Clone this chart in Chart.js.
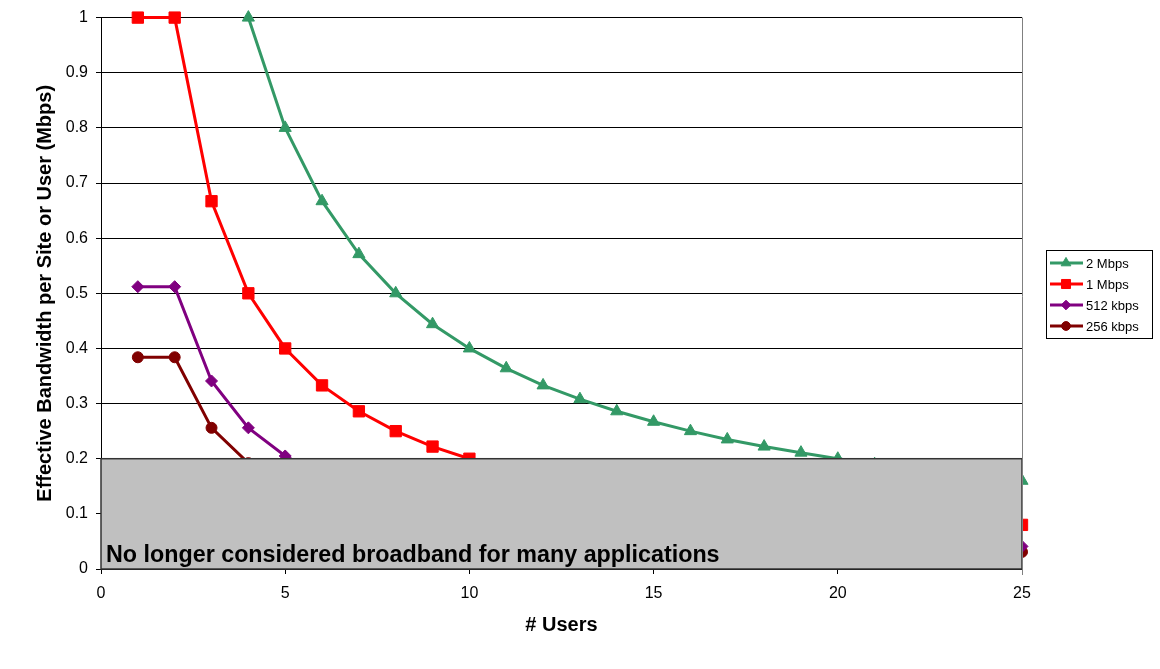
<!DOCTYPE html>
<html lang="en">
<head>
  <meta charset="UTF-8">
  <title>Effective Bandwidth per User</title>
  <script src="https://cdn.jsdelivr.net/npm/chart.js"></script>
  <style>
    html, body { margin: 0; padding: 0; background: #fff; }
    #wrap { width: 1160px; height: 669px; }
  </style>
</head>
<body>
  <div id="wrap"><canvas id="bwChart" width="1160" height="669"></canvas></div>

  <script>
    // Values
    const users = [1, 2, 3, 4, 5, 6, 7, 8, 9, 10, 11, 12, 13, 14, 15, 16, 17, 18, 19, 20, 21, 22, 23, 24, 25];
    const mbps2 = [null, null, null, 1.0, 0.8, 0.667, 0.571, 0.5, 0.444, 0.4, 0.364, 0.333, 0.308, 0.286, 0.267, 0.25, 0.235, 0.222, 0.211, 0.2, 0.19, 0.182, 0.174, 0.167, 0.16];
    const mbps1 = [1.0, 1.0, 0.667, 0.5, 0.4, 0.333, 0.286, 0.25, 0.222, 0.2, 0.182, 0.167, 0.154, 0.143, 0.133, 0.125, 0.118, 0.111, 0.105, 0.1, 0.095, 0.091, 0.087, 0.083, 0.08];
    const kbps512 = [0.512, 0.512, 0.341, 0.256, 0.205, 0.171, 0.146, 0.128, 0.114, 0.102, 0.093, 0.085, 0.079, 0.073, 0.068, 0.064, 0.06, 0.057, 0.054, 0.051, 0.049, 0.047, 0.045, 0.043, 0.041];
    const kbps256 = [0.384, 0.384, 0.256, 0.192, 0.154, 0.128, 0.11, 0.096, 0.085, 0.077, 0.07, 0.064, 0.059, 0.055, 0.051, 0.048, 0.045, 0.043, 0.04, 0.038, 0.037, 0.035, 0.033, 0.032, 0.031];
    const broadbandLimit = 0.2;
    const zoneLabel = 'No longer considered broadband for many applications';

    const FONT = 'Arial, "Liberation Sans", sans-serif';

    function pts(values) {
      return users.map((u, i) => ({ x: u, y: values[i] })).filter(p => p.y !== null);
    }

    // gray zone drawn over the lines + right border of the plot
    const zonePlugin = {
      id: 'zone',
      afterDatasetsDraw(chart) {
        const { ctx, chartArea, scales } = chart;
        const yTop = scales.y.getPixelForValue(broadbandLimit);
        const yBot = scales.y.getPixelForValue(0);
        ctx.save();
        ctx.fillStyle = '#c0c0c0';
        ctx.fillRect(chartArea.left, yTop, chartArea.right - chartArea.left, yBot - yTop);
        ctx.strokeStyle = '#333';
        ctx.lineWidth = 1.5;
        ctx.strokeRect(chartArea.left, yTop, chartArea.right - chartArea.left, yBot - yTop);
        ctx.fillStyle = '#000';
        ctx.font = 'bold 23.3px ' + FONT;
        ctx.textBaseline = 'alphabetic';
        ctx.fillText(zoneLabel, chartArea.left + 5, yBot - 7);
        ctx.strokeStyle = '#808080';
        ctx.lineWidth = 1;
        ctx.beginPath();
        ctx.moveTo(chartArea.right + 0.5, chartArea.top);
        ctx.lineTo(chartArea.right + 0.5, chartArea.bottom + 6);
        ctx.stroke();
        ctx.restore();
      }
    };

    // boxed legend on the right
    const legendPlugin = {
      id: 'boxLegend',
      afterDraw(chart) {
        const { ctx } = chart;
        const x0 = 1046, y0 = 250, w = 106, h = 88;
        ctx.save();
        ctx.fillStyle = '#fff';
        ctx.fillRect(x0, y0, w, h);
        ctx.strokeStyle = '#000';
        ctx.lineWidth = 1;
        ctx.strokeRect(x0 + 0.5, y0 + 0.5, w, h);
        ctx.font = '13px ' + FONT;
        ctx.textBaseline = 'middle';
        chart.data.datasets.forEach((ds, i) => {
          const y = y0 + 13 + i * 21;
          ctx.strokeStyle = ds.borderColor;
          ctx.lineWidth = 3;
          ctx.beginPath();
          ctx.moveTo(x0 + 4, y);
          ctx.lineTo(x0 + 37, y);
          ctx.stroke();
          ctx.fillStyle = ds.borderColor;
          ctx.lineWidth = 1;
          Chart.helpers.drawPoint(ctx, {
            pointStyle: ds.pointStyle,
            radius: ds.pointRadius * 0.8,
            rotation: 0,
            borderWidth: 1
          }, x0 + 20, y);
          ctx.fillStyle = '#000';
          ctx.fillText(ds.label, x0 + 40, y + 1);
        });
        ctx.restore();
      }
    };

    function series(label, values, color, style, radius) {
      return {
        label: label,
        data: pts(values),
        borderColor: color,
        backgroundColor: color,
        borderWidth: 3,
        pointStyle: style,
        pointRadius: radius,
        pointHoverRadius: radius,
        pointBorderWidth: 1,
        tension: 0,
        clip: false,
        fill: false
      };
    }

    const ctx = document.getElementById('bwChart').getContext('2d');
    new Chart(ctx, {
      type: 'line',
      data: {
        datasets: [
          series('2 Mbps', mbps2, '#339966', 'triangle', 7),
          series('1 Mbps', mbps1, '#ff0000', 'rect', 8),
          series('512 kbps', kbps512, '#800080', 'rectRot', 6),
          series('256 kbps', kbps256, '#800000', 'circle', 5.5)
        ]
      },
      options: {
        responsive: false,
        animation: false,
        events: [],
        layout: { padding: { left: 33, right: 138, top: 17, bottom: 32 } },
        plugins: {
          legend: { display: false },
          tooltip: { enabled: false }
        },
        scales: {
          x: {
            type: 'linear',
            min: 0,
            max: 25,
            ticks: { stepSize: 5, color: '#000', font: { family: FONT, size: 16 }, padding: 10 },
            grid: { drawOnChartArea: false, drawTicks: true, tickLength: 5, color: '#000' },
            border: { color: '#000', width: 1 },
            title: { display: true, text: '# Users', color: '#000', font: { family: FONT, size: 20, weight: 'bold' }, padding: 0 },
            afterFit(scale) { scale.height = 68; }
          },
          y: {
            min: 0,
            max: 1,
            ticks: {
              stepSize: 0.1,
              color: '#000',
              font: { family: FONT, size: 16 },
              padding: 8,
              callback: v => Math.round(v * 10) / 10
            },
            grid: { color: '#000', lineWidth: 1, tickLength: 5 },
            border: { color: '#000', width: 1 },
            title: { display: true, text: 'Effective Bandwidth per Site or User (Mbps)', color: '#000', font: { family: FONT, size: 20, weight: 'bold' }, padding: 0 },
            afterFit(scale) { scale.width = 68; }
          }
        }
      },
      plugins: [zonePlugin, legendPlugin]
    });
  </script>
</body>
</html>
